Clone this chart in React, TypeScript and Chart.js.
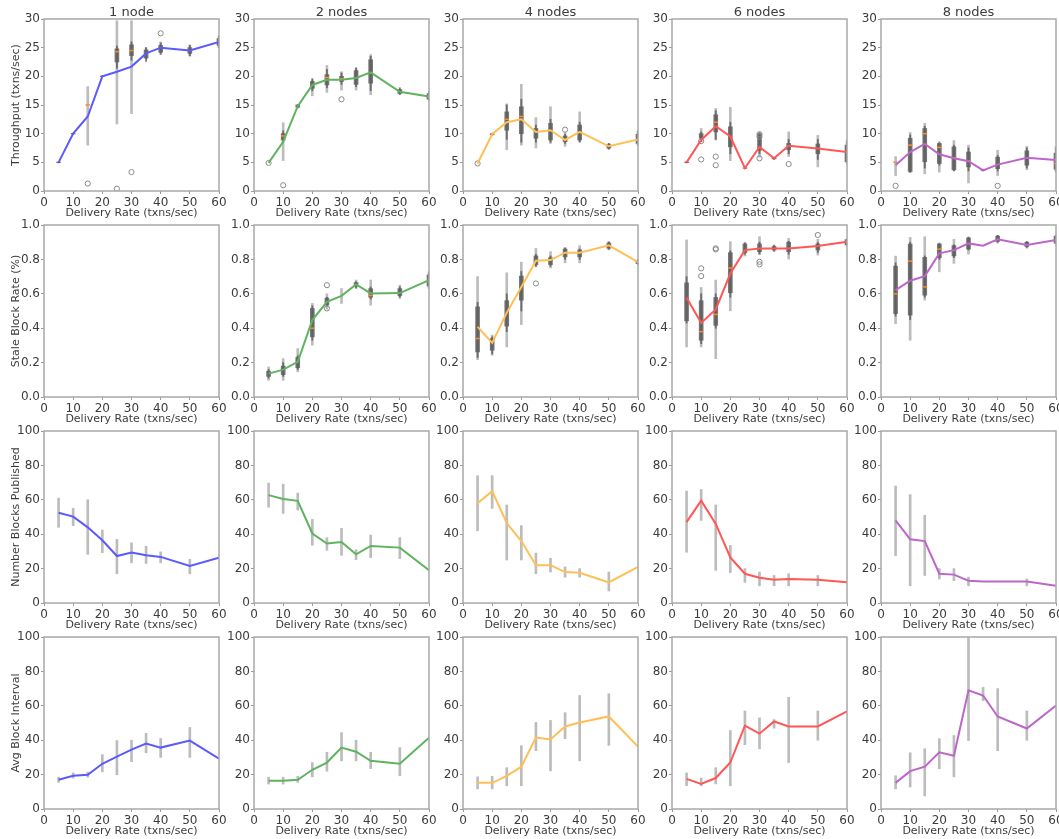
import React, { useEffect, useRef } from 'react';
import { Chart, registerables } from 'chart.js';

Chart.register(...registerables);
Chart.defaults.font.family = "'DejaVu Sans', sans-serif";

// ---------------- data ----------------
const deliveryRates = [5, 10, 15, 20, 25, 30, 35, 40, 50, 60];
const nodeTitles = ['1 node', '2 nodes', '4 nodes', '6 nodes', '8 nodes'];
const rowTitles = ['Throughput (txns/sec)', 'Stale Block Rate (%)', 'Number Blocks Published', 'Avg Block Interval'];
const xTitle = 'Delivery Rate (txns/sec)';
const xTicks = [0, 10, 20, 30, 40, 50, 60];
const rowYMax = [30, 1, 100, 100];
const rowYStep = [5, 0.2, 20, 20];
const lineColors = ['#5a5aff', '#5fb35f', '#ffbf55', '#ff5656', '#bd66c9'];

// Throughput
const throughput1Mean = [5, 10, 13, 20, 20.8, 21.7, 24, 25, 24.5, 26];
const throughput1Err = [null, null, [8, 18.2], null, [11.7, 29.7], [13.5, 29.7], [23, 25], [24, 26], [23.5, 25.5], [25, 27]];
const throughput1Box = [[4.9, 4.95, 5.05, 5.1], [9.9, 9.95, 10.05, 10.1], null, [19.9, 19.95, 20.05, 20.1], [21.4, 22.5, 24.8, 25.3], [22.8, 23.6, 25.5, 26], [22.6, 23.2, 24.6, 25], [23.8, 24.2, 25.4, 25.8], [23.6, 24, 25, 25.4], [25, 25.4, 26.6, 27]];
const throughput1Med = [null, null, 15, null, 24.3, 24.5, null, null, null, null];
const throughput1Out = [[15, 1.3], [25, 0.4], [30, 3.3], [40, 27.5]];

const throughput2Mean = [4.9, 8.6, 14.8, 18.5, 19.4, 19.4, 19.7, 20.7, 17.3, 16.5];
const throughput2Err = [null, [5.3, 11.9], null, [16.6, 19.4], [17.2, 21.9], [17.6, 20.8], [17.6, 21.4], [16.8, 23.8], null, null];
const throughput2Box = [null, [8.5, 8.9, 10, 10.5], [14.5, 14.6, 15, 15.1], [17.5, 17.9, 19.1, 19.6], [18, 18.5, 20.3, 21.2], [18.6, 19.1, 20, 20.6], [18.2, 18.6, 21, 21.5], [17.5, 18.8, 22.9, 23.5], [16.8, 17, 17.7, 18], [15.8, 16, 17, 17.4]];
const throughput2Med = [null, 9.6, null, null, 19.8, 19.6, null, 20.6, null, null];
const throughput2Out = [[5, 4.9], [10, 1.0], [30, 16.0]];

const throughput4Mean = [4.8, 9.9, 12, 12.5, 10.3, 10.6, 8.9, 10.3, 7.8, 9];
const throughput4Err = [null, null, [7.2, 15.2], [8, 18.6], [7.5, 12.8], [8.3, 14.7], [7.8, 10.2], [8.6, 13.8], [7.3, 8.3], [8, 10.5]];
const throughput4Box = [null, [9.7, 9.8, 10, 10.1], [9, 10.6, 13.8, 15], [8.5, 10, 14.7, 16], [8.5, 9.2, 10.9, 11.5], [8.5, 8.9, 11.8, 12.5], [8.3, 8.6, 9.6, 9.9], [8.5, 8.9, 11.5, 12], [7.3, 7.5, 8.1, 8.3], [8, 8.3, 9.9, 10.5]];
const throughput4Med = [null, null, 12.5, 13, null, null, null, null, null, null];
const throughput4Out = [[5, 4.8], [35, 10.7]];

const throughput6Mean = [5, 8.9, 11.3, 9.5, 4, 7.7, 5.7, 7.9, 7.4, 6.8];
const throughput6Err = [null, [8.6, 10.9], [8.9, 14.4], [5.3, 14.6], null, [5.9, 10], null, [6, 10.3], [4.2, 9.7], [4.8, 8.9]];
const throughput6Box = [[4.9, 4.95, 5.05, 5.1], [8.6, 9.2, 10, 10.3], [9, 10.3, 13.3, 14], [6.5, 7.7, 11.2, 12], [3.9, 3.95, 4.05, 4.1], [6.5, 7.1, 10, 10.2], [5.5, 5.6, 5.8, 5.9], [6.5, 7.2, 8.3, 9], [5.5, 6.5, 8.2, 9], [5, 5.1, 8, 8.5]];
const throughput6Med = [null, null, 12, null, null, null, null, null, null, null];
const throughput6Out = [[10, 5.5], [10, 8.7], [15, 6.0], [15, 4.5], [30, 9.9], [30, 9.5], [30, 5.7], [40, 4.7]];

const throughput8Mean = [4.5, 6.8, 8.2, 6.4, 5.7, 5.2, 3.6, 4.6, 5.8, 5.4];
const throughput8Err = [[2.7, 6], [3.2, 10.2], [3, 11.8], [3.3, 8.6], [3.6, 8.8], [1.4, 8], null, [2.7, 7.1], [3.7, 7.8], [3.3, 7.8]];
const throughput8Box = [null, [3.3, 3.4, 9.2, 9.8], [4, 5.1, 10.9, 11.3], [4.5, 4.8, 8.3, 8.4], [3.5, 3.7, 7.7, 8], [3.5, 4.2, 6.8, 7.5], [3.5, 3.55, 3.7, 3.8], [3.5, 3.9, 5.9, 6.2], [4, 4.5, 7, 7.5], [3.6, 3.8, 6.6, 7.5]];
const throughput8Med = [5.0, 8.0, 10.0, 7.6, 5.8, 5.2, null, null, 5.8, 4.8];
const throughput8Out = [[5, 0.9], [40, 0.9]];

// Stale block rate
const stale1Mean = [];
const stale1Err = [];
const stale1Box = [];
const stale1Med = [];
const stale1Out = [];

const stale2Mean = [0.136, 0.159, 0.204, 0.447, 0.553, 0.588, 0.654, 0.602, 0.604, 0.68];
const stale2Err = [[0.097, 0.175], [0.097, 0.223], [0.146, 0.282], [0.301, 0.544], [0.51, 0.6], [0.544, 0.631], [0.63, 0.68], [0.534, 0.68], [0.573, 0.65], [0.631, 0.728]];
const stale2Box = [[0.11, 0.12, 0.15, 0.16], [0.12, 0.13, 0.18, 0.2], [0.16, 0.17, 0.23, 0.24], [0.33, 0.35, 0.515, 0.53], [0.53, 0.535, 0.575, 0.58], null, [0.635, 0.645, 0.665, 0.67], [0.57, 0.58, 0.63, 0.64], [0.58, 0.59, 0.63, 0.64], [0.64, 0.645, 0.71, 0.72]];
const stale2Med = [null, null, null, 0.4, null, null, null, 0.59, null, null];
const stale2Out = [[25, 0.65], [25, 0.515]];

const stale4Mean = [0.408, 0.315, 0.49, 0.64, 0.792, 0.796, 0.839, 0.839, 0.882, 0.784];
const stale4Err = [[0.217, 0.7], [0.243, 0.36], [0.291, 0.722], [0.421, 0.784], [0.757, 0.864], [0.75, 0.845], [0.78, 0.87], [0.78, 0.88], [0.855, 0.905], null];
const stale4Box = [[0.23, 0.262, 0.524, 0.55], [0.25, 0.272, 0.34, 0.35], [0.38, 0.412, 0.56, 0.6], [0.5, 0.563, 0.703, 0.73], [0.76, 0.77, 0.82, 0.83], [0.76, 0.77, 0.81, 0.82], [0.8, 0.815, 0.86, 0.865], [0.8, 0.815, 0.855, 0.86], [0.86, 0.865, 0.895, 0.9], [0.77, 0.775, 0.795, 0.8]];
const stale4Med = [0.34, null, null, null, null, null, null, null, null, null];
const stale4Out = [[25, 0.66]];

const stale6Mean = [0.577, 0.431, 0.509, 0.718, 0.854, 0.864, 0.864, 0.864, 0.878, 0.903];
const stale6Err = [[0.291, 0.913], [0.291, 0.637], [0.223, 0.68], [0.501, 0.903], [0.82, 0.9], [0.831, 0.932], [0.845, 0.885], [0.802, 0.922], [0.825, 0.917], [0.885, 0.915]];
const stale6Box = [[0.43, 0.443, 0.664, 0.7], [0.31, 0.33, 0.56, 0.6], [0.4, 0.417, 0.579, 0.6], [0.58, 0.606, 0.839, 0.85], [0.83, 0.84, 0.89, 0.895], [0.83, 0.845, 0.89, 0.9], [0.85, 0.855, 0.875, 0.88], [0.83, 0.845, 0.9, 0.905], [0.84, 0.855, 0.89, 0.9], [0.88, 0.885, 0.915, 0.92]];
const stale6Med = [null, 0.38, 0.48, 0.75, null, null, null, null, null, null];
const stale6Out = [[10, 0.748], [10, 0.703], [15, 0.864], [15, 0.858], [30, 0.786], [30, 0.771], [50, 0.942]];

const stale8Mean = [0.621, 0.676, 0.703, 0.835, 0.854, 0.893, 0.88, 0.917, 0.884, 0.913];
const stale8Err = [[0.427, 0.819], [0.33, 0.928], [0.563, 0.932], [0.728, 0.889], [0.777, 0.917], [0.831, 0.928], null, [0.895, 0.94], [0.865, 0.9], [0.89, 0.94]];
const stale8Box = [[0.47, 0.485, 0.761, 0.78], [0.45, 0.476, 0.889, 0.9], [0.58, 0.592, 0.812, 0.82], [0.8, 0.81, 0.89, 0.895], [0.81, 0.82, 0.88, 0.885], [0.855, 0.86, 0.925, 0.93], null, [0.9, 0.905, 0.935, 0.94], [0.87, 0.875, 0.9, 0.905], [0.89, 0.895, 0.935, 0.94]];
const stale8Med = [0.6, 0.79, 0.64, 0.86, null, null, null, null, null, null];
const stale8Out = [];

// Number of blocks published
const blocks1Mean = [52.5, 50.2, 44, 36.5, 27.3, 29.3, 27.7, 26.8, 21.5, 26.4];
const blocks1Err = [[44, 61], [45, 55], [28.3, 60], [29.3, 42.4], [17, 37], [23.4, 35], [23, 33], [23.4, 29.7], [17, 25.4], null];
const blocks2Mean = [62.7, 60.5, 59.4, 40.4, 34.6, 35.5, 28.3, 33.2, 32.2, 19.0];
const blocks2Err = [[55.7, 69.7], [52.1, 69.1], [54.1, 63.9], [33.6, 48.6], [30.7, 38], [27.7, 43.4], [25.2, 31], [26.4, 39.5], [25.8, 38], null];
const blocks4Mean = [58, 65, 46.5, 36, 22, 22, 18, 17.6, 12, 21];
const blocks4Err = [[42, 74], [55, 74], [25, 57], [25, 45], [17, 29], [18, 26], [15, 21], [15, 20], [7, 18], null];
const blocks6Mean = [47, 59.5, 46, 26.5, 17, 14.7, 13.5, 14, 13.5, 12];
const blocks6Err = [[29.5, 65], [48, 66], [19, 57], [17.6, 33.5], [12, 20], [10, 18], [10, 16], [10, 17], [10, 16], null];
const blocks8Mean = [48, 37, 36, 17, 16.5, 13, 12.5, 12.5, 12.5, 10];
const blocks8Err = [[27.6, 68], [10, 63], [16, 51], [14, 20], [13, 20], [10, 15], null, null, [10, 14], null];

// Average block interval
const interval1Mean = [17, 19.3, 19.9, 26.3, 30.4, 34.5, 38, 35.7, 39.8, 29.2];
const interval1Err = [[15.5, 18.5], [18, 21], [18.5, 21.5], [21.6, 31.6], [19.9, 39.8], [27.5, 40], [32.7, 44], [30, 41], [30, 47.4], null];
const interval2Mean = [16.4, 16.4, 17, 22.8, 27, 35.7, 33.3, 28, 26.3, 41.5];
const interval2Err = [[14.5, 18.5], [14.5, 18.5], [15.5, 19], [18.7, 27], [22, 33], [28, 44.4], [28, 40], [23.5, 33], [19.3, 35.7], null];
const interval4Mean = [15.2, 15.2, 19.3, 24.6, 41.5, 40.4, 48, 50.3, 53.8, 36.3];
const interval4Err = [[11.7, 18.7], [11.7, 19], [13.5, 24], [13.5, 36.8], [33.9, 50.3], [22.2, 51.5], [40.9, 56], [28, 66], [37, 67], null];
const interval6Mean = [17.5, 14.6, 18, 27, 48.5, 43.8, 50.9, 48, 48, 56.7];
const interval6Err = [[13.5, 21], [13.5, 18], [14.6, 24], [13.5, 45.6], [37.4, 57], [35, 53], [47, 52], [27, 64.9], [40, 57], null];
const interval8Mean = [15.2, 22, 24.6, 33, 31, 69, 66, 53.8, 46.8, 60.2];
const interval8Err = [[11.7, 19.3], [12.8, 32.7], [7.6, 35], [23.4, 40.9], [18.7, 42.7], [39.8, 100], [63, 70.7], [33.9, 70], [40, 57], null];

// ---------------- panels ----------------
const panelRows = [
  [
    { mean: throughput1Mean, err: throughput1Err, box: throughput1Box, med: throughput1Med, out: throughput1Out },
    { mean: throughput2Mean, err: throughput2Err, box: throughput2Box, med: throughput2Med, out: throughput2Out },
    { mean: throughput4Mean, err: throughput4Err, box: throughput4Box, med: throughput4Med, out: throughput4Out },
    { mean: throughput6Mean, err: throughput6Err, box: throughput6Box, med: throughput6Med, out: throughput6Out },
    { mean: throughput8Mean, err: throughput8Err, box: throughput8Box, med: throughput8Med, out: throughput8Out },
  ],
  [
    { mean: stale1Mean, err: stale1Err, box: stale1Box, med: stale1Med, out: stale1Out },
    { mean: stale2Mean, err: stale2Err, box: stale2Box, med: stale2Med, out: stale2Out },
    { mean: stale4Mean, err: stale4Err, box: stale4Box, med: stale4Med, out: stale4Out },
    { mean: stale6Mean, err: stale6Err, box: stale6Box, med: stale6Med, out: stale6Out },
    { mean: stale8Mean, err: stale8Err, box: stale8Box, med: stale8Med, out: stale8Out },
  ],
  [
    { mean: blocks1Mean, err: blocks1Err },
    { mean: blocks2Mean, err: blocks2Err },
    { mean: blocks4Mean, err: blocks4Err },
    { mean: blocks6Mean, err: blocks6Err },
    { mean: blocks8Mean, err: blocks8Err },
  ],
  [
    { mean: interval1Mean, err: interval1Err },
    { mean: interval2Mean, err: interval2Err },
    { mean: interval4Mean, err: interval4Err },
    { mean: interval6Mean, err: interval6Err },
    { mean: interval8Mean, err: interval8Err },
  ],
];

// layout (plot-area geometry)
const areaLefts = [44, 254, 463, 672, 881];
const areaTops = [19, 225, 431, 637];
const AREA_W = 175;
const AREA_H = 172;
const Y_AXIS_W = 44;
const X_AXIS_H = 34;
const PAD_TOP = 19;
const PAD_RIGHT = 10;

const TEXT = '#3c3c3c';

const framePlugin = {
  id: 'frame',
  afterDraw(chart: any) {
    const { ctx, chartArea: a } = chart;
    ctx.save();
    ctx.strokeStyle = '#a8a8a8';
    ctx.lineWidth = 1.5;
    ctx.strokeRect(a.left, a.top, a.right - a.left, a.bottom - a.top);
    ctx.restore();
  },
};

function Panel({ row, col }: { row: number; col: number }) {
  const ref = useRef<HTMLCanvasElement | null>(null);
  useEffect(() => {
    const p: any = panelRows[row][col];
    const pick = (arr: any[] | undefined, f: (v: any, x: number) => any) =>
      (arr || []).map((v, i) => (v == null ? null : f(v, deliveryRates[i]))).filter((d) => d != null);

    const datasets: any[] = [];
    datasets.push({
      type: 'bar',
      data: pick(p.err, (v, x) => ({ x, y: [v[0], v[1]] })),
      backgroundColor: 'rgba(160,160,160,0.7)',
      barThickness: 2,
      grouped: false,
      borderWidth: 0,
      order: 6,
    });
    if (p.box) {
      datasets.push({
        type: 'bar',
        data: pick(p.box, (v, x) => ({ x, y: [v[0], v[3]] })),
        backgroundColor: 'rgba(90,90,90,0.8)',
        barThickness: 1.2,
        grouped: false,
        borderWidth: 0,
        order: 5,
      });
      datasets.push({
        type: 'bar',
        data: pick(p.box, (v, x) => ({ x, y: [v[1], v[2]] })),
        backgroundColor: 'rgba(95,95,95,0.85)',
        barThickness: 4,
        grouped: false,
        borderWidth: 0,
        order: 4,
      });
      datasets.push({
        type: 'scatter',
        data: pick(p.med, (v, x) => ({ x, y: v })),
        pointStyle: 'line',
        pointRadius: 2.2,
        borderColor: '#ff8a2a',
        backgroundColor: '#ff8a2a',
        borderWidth: 1.5,
        order: 2,
      });
      datasets.push({
        type: 'scatter',
        data: (p.out || []).map((o: number[]) => ({ x: o[0], y: o[1] })),
        pointStyle: 'circle',
        pointRadius: 2.6,
        borderColor: '#8a8a8a',
        backgroundColor: 'rgba(0,0,0,0)',
        borderWidth: 1,
        order: 3,
      });
    }
    datasets.push({
      type: 'line',
      data: pick(p.mean, (v, x) => ({ x, y: v })),
      borderColor: lineColors[col],
      borderWidth: 2,
      pointRadius: 0,
      tension: 0,
      fill: false,
      order: 1,
    });

    const tickFont = { size: 12, family: "'DejaVu Sans', sans-serif" };
    const grid = { display: true, drawOnChartArea: false, drawTicks: true, tickLength: 3, color: '#9a9a9a', offset: false };
    const titlePlugin = {
      id: 'colTitle',
      afterDraw(chart: any) {
        if (row !== 0) return;
        const { ctx, chartArea: a } = chart;
        ctx.save();
        ctx.fillStyle = TEXT;
        ctx.font = "13px 'DejaVu Sans', sans-serif";
        ctx.textAlign = 'center';
        ctx.textBaseline = 'alphabetic';
        ctx.fillText(nodeTitles[col], (a.left + a.right) / 2, 16);
        ctx.restore();
      },
    };

    const chart = new Chart(ref.current as HTMLCanvasElement, {
      type: 'line',
      data: { datasets },
      options: {
        animation: false,
        responsive: false,
        devicePixelRatio: 1,
        layout: { padding: { top: PAD_TOP, right: PAD_RIGHT, left: 0, bottom: 0 } },
        plugins: { legend: { display: false }, tooltip: { enabled: false }, title: { display: false } },
        scales: {
          x: {
            type: 'linear',
            min: 0,
            max: 60,
            offset: false,
            afterBuildTicks: (s: any) => { s.ticks = xTicks.map((v) => ({ value: v })); },
            ticks: { font: tickFont, color: TEXT, padding: 2, maxRotation: 0, autoSkip: false },
            grid,
            border: { display: false },
            title: { display: true, text: xTitle, font: { size: 11 }, color: TEXT, padding: { top: 0, bottom: 5 } },
            afterFit: (s: any) => { s.height = X_AXIS_H; },
          },
          y: {
            type: 'linear',
            min: 0,
            max: rowYMax[row],
            ticks: {
              stepSize: rowYStep[row],
              font: tickFont,
              color: TEXT,
              padding: 1,
              callback: (v: any) => (row === 1 ? Number(v).toFixed(1) : String(Math.round(Number(v)))),
            },
            grid,
            border: { display: false },
            title: { display: col === 0, text: rowTitles[row], font: { size: 11 }, color: TEXT, padding: { top: 10, bottom: 0 } },
            afterFit: (s: any) => { s.width = Y_AXIS_W; },
          },
        },
      } as any,
      plugins: [framePlugin, titlePlugin],
    });
    return () => chart.destroy();
  }, [row, col]);

  const w = Y_AXIS_W + AREA_W + PAD_RIGHT;
  const h = PAD_TOP + AREA_H + X_AXIS_H;
  return (
    <canvas
      ref={ref}
      width={w}
      height={h}
      style={{ position: 'absolute', left: areaLefts[col] - Y_AXIS_W, top: areaTops[row] - PAD_TOP, width: w, height: h }}
    />
  );
}

export default function App() {
  const cells: any[] = [];
  for (let r = 0; r < 4; r++) for (let c = 0; c < 5; c++) cells.push(<Panel key={`${r}-${c}`} row={r} col={c} />);
  return (
    <div style={{ position: 'fixed', left: 0, top: 0, width: 1059, height: 839, overflow: 'hidden', background: '#fff' }}>
      {cells}
    </div>
  );
}
